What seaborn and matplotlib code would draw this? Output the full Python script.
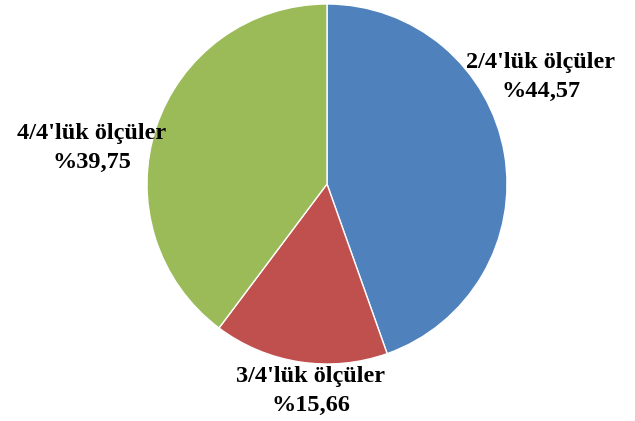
import matplotlib
matplotlib.use("Agg")
import matplotlib.pyplot as plt
import seaborn as sns

# data
categories = ["2/4'lük ölçüler", "3/4'lük ölçüler", "4/4'lük ölçüler"]
shares = [44.57, 15.66, 39.75]
colors = ["#4F81BD", "#C0504D", "#9BBB59"]

sns.set_style("white")
plt.rcParams['font.family'] = ['Liberation Serif', 'DejaVu Serif']

fig = plt.figure(figsize=(6.35, 4.21), dpi=100)
ax = fig.add_axes([0, 0, 1, 1])

ax.pie(shares, colors=sns.color_palette(colors), startangle=90, counterclock=False,
       center=(327, 237), radius=180, frame=True,
       wedgeprops=dict(edgecolor='white', linewidth=1))
ax.set_xlim(0, 635)
ax.set_ylim(0, 421)
ax.set_aspect('equal')
ax.axis('off')

# label positions (pixel space, y flipped)
label_pos = [(541, 421 - 77), (311, 421 - 391), (92, 421 - 148)]
for name, val, (x, y) in zip(categories, shares, label_pos):
    txt = f"{name}\n%{val:.2f}".replace('.', ',')
    ax.text(x, y, txt, ha='center', va='center', fontsize=17.5, fontweight='bold',
            color='black', linespacing=1.45)

fig.savefig("out.png", dpi=100)
